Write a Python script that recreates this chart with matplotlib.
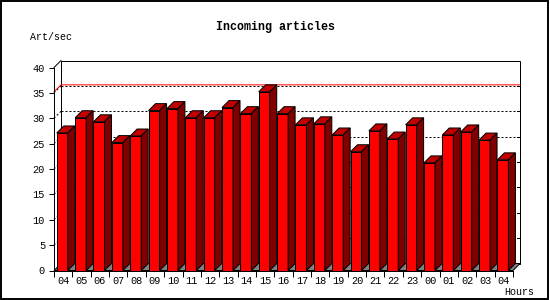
import matplotlib
matplotlib.use("Agg")
import matplotlib.pyplot as plt
from matplotlib.patches import Polygon, Rectangle

hours = ["04", "05", "06", "07", "08", "09", "10", "11", "12", "13", "14", "15", "16",
         "17", "18", "19", "20", "21", "22", "23", "00", "01", "02", "03", "04"]
rates = [27.1, 30.1, 29.3, 25.2, 26.5, 31.5, 31.9, 30.1, 30.1, 32.1, 30.9, 35.2, 30.9,
         28.7, 28.9, 26.7, 23.4, 27.5, 25.9, 28.7, 21.2, 26.7, 27.3, 25.7, 21.8]
y_ticks = [0, 5, 10, 15, 20, 25, 30, 35, 40]

W, H = 550, 300
FONT = "Liberation Mono"
LW = 0.72  # one pixel at 100 dpi

fig = plt.figure(figsize=(5.5, 3.0), dpi=100)
fig.patch.set_facecolor("white")

# front plane in pixels: x 54..513, y 270.5..67.5
x0, x1, yb, yt = 54, 513, 270.5, 67.5
ax = fig.add_axes([x0 / W, (H - yb) / H, (x1 - x0) / W, (yb - yt) / H])
n = len(rates)
ax.set_xlim(0, n)
ax.set_ylim(0, 40)
ax.patch.set_alpha(0)

# 3d depth, 7 px right and 7 px up
dx = 7 / ((x1 - x0) / n)
dy = 7 / ((yb - yt) / 40)

# back wall
ax.add_patch(Rectangle((dx, dy), n, 40, facecolor="white", edgecolor="black",
                       linewidth=LW, clip_on=False, zorder=1))
for v in y_ticks[1:-1]:
    ax.plot([dx, n + dx], [v + dy, v + dy], color="black", lw=LW,
            linestyle=(0, (2, 2)), clip_on=False, zorder=2)
    ax.plot([0, dx], [v, v + dy], color="black", lw=LW,
            linestyle=(0, (2, 2)), clip_on=False, zorder=2)
    ax.plot([n + dx - 0.17, n + dx], [v + dy, v + dy], color="black", lw=LW,
            clip_on=False, zorder=2)

# max line
peak = max(rates)
ax.plot([0, dx, n + dx], [peak, peak + dy, peak + dy], color="red", lw=LW,
        clip_on=False, zorder=3)

# left wall top edge
ax.plot([0, dx], [40, 40 + dy], color="black", lw=LW, clip_on=False, zorder=3)

# floor
ax.add_patch(Polygon([(0, 0), (n, 0), (n + dx, dy), (dx, dy)], closed=True,
                     facecolor="#808080", edgecolor="black", linewidth=LW,
                     clip_on=False, zorder=3))

# bars
bw = 0.6
lefts = [i + 0.15 for i in range(n)]
ax.bar(lefts, rates, width=bw, align="edge", color="#ff0000", edgecolor="black",
       linewidth=LW, zorder=5)
for left, v in zip(lefts, rates):
    r = left + bw
    ax.add_patch(Polygon([(left, v), (r, v), (r + dx, v + dy), (left + dx, v + dy)],
                         closed=True, facecolor="#c00000", edgecolor="black",
                         linewidth=LW, clip_on=False, zorder=5))
    ax.add_patch(Polygon([(r, 0), (r + dx, dy), (r + dx, v + dy), (r, v)],
                         closed=True, facecolor="#800000", edgecolor="black",
                         linewidth=LW, clip_on=False, zorder=5))

# axes
for side in ["top", "right"]:
    ax.spines[side].set_visible(False)
for side in ["left", "bottom"]:
    ax.spines[side].set_linewidth(LW)
    ax.spines[side].set_zorder(6)
ax.set_yticks(y_ticks)
ax.set_yticklabels([str(v) for v in y_ticks], fontfamily=FONT, fontsize=7.4)
ax.tick_params(axis="y", direction="out", length=3.5, width=LW, pad=3)
ax.set_xticks([i + 0.5 for i in range(n)])
ax.set_xticklabels(hours, fontfamily=FONT, fontsize=7.4)
ax.set_xticks(range(n + 1), minor=True)
ax.tick_params(axis="x", which="major", length=0, pad=4)
ax.tick_params(axis="x", which="minor", direction="out", length=4, width=LW)

# texts
fig.text(275 / W, 1 - 27 / H, "Incoming articles", ha="center", va="center",
         fontfamily=FONT, fontweight="bold", fontsize=8.4)
fig.text(30 / W, 1 - 37 / H, "Art/sec", ha="left", va="center",
         fontfamily=FONT, fontsize=7.2)
fig.text(519 / W, 1 - 292 / H, "Hours", ha="center", va="center",
         fontfamily=FONT, fontsize=7.2)

# outer frame
fig.add_artist(Rectangle((0.001, 0.002), 0.996, 0.995, transform=fig.transFigure,
                         fill=False, edgecolor="black", linewidth=1.4))

fig.savefig("out.png", dpi=100)
